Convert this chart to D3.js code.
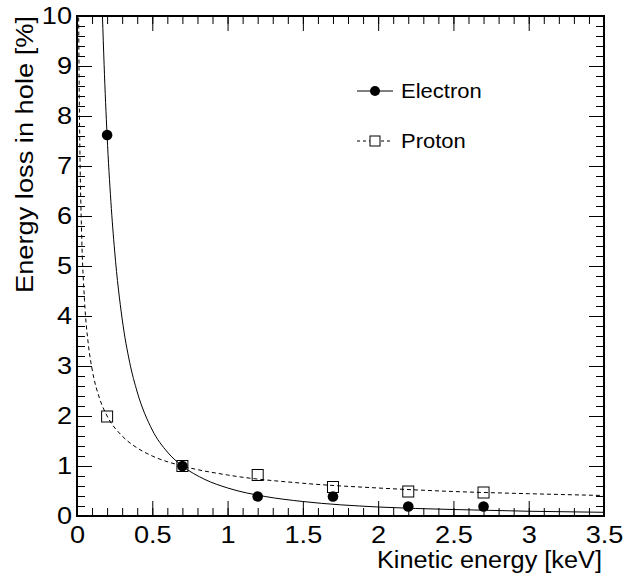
<!DOCTYPE html>
<html>
<head>
<meta charset="utf-8">
<script src="https://cdn.jsdelivr.net/npm/d3@7/dist/d3.min.js"></script>
<style>
  body { margin: 0; background: #fff; }
  text { font-family: "Liberation Sans", Arial, Helvetica, sans-serif; fill: #000; }
</style>
</head>
<body>
<svg id="chart"></svg>
<script>
// measured points
const energies = [0.2, 0.7, 1.2, 1.7, 2.2, 2.7];
const electronLoss = [7.62, 1.0, 0.39, 0.39, 0.19, 0.19];
const protonLoss = [1.99, 1.0, 0.82, 0.58, 0.49, 0.47];

// fitted curves
const electronFitX = [0.169, 0.18, 0.2, 0.225, 0.25, 0.3, 0.35, 0.4, 0.5, 0.6, 0.7, 0.85, 1.0, 1.25, 1.5, 2.0, 2.5, 3.0, 3.5];
const electronFitY = [10.0, 9.03, 7.6, 6.29, 5.3, 3.94, 3.07, 2.48, 1.72, 1.28, 1.0, 0.73, 0.561, 0.39, 0.29, 0.18, 0.13, 0.095, 0.074];
const protonFitX = [0.011, 0.015, 0.02, 0.03, 0.05, 0.075, 0.1, 0.15, 0.2, 0.3, 0.4, 0.5, 0.7, 1.0, 1.5, 2.0, 2.5, 3.0, 3.5];
const protonFitY = [9.97, 8.4, 7.16, 5.72, 4.31, 3.44, 2.94, 2.35, 2.0, 1.6, 1.36, 1.2, 1.0, 0.82, 0.655, 0.56, 0.49, 0.446, 0.41];

const xTickValues = [0, 0.5, 1, 1.5, 2, 2.5, 3, 3.5];
const yTickValues = [0, 1, 2, 3, 4, 5, 6, 7, 8, 9, 10];
const seriesNames = ['Electron', 'Proton'];

const width = 640, height = 581;
const frame = { left: 77, right: 604, top: 16, bottom: 516 };
const fontSize = 23;

const svg = d3.select('#chart').attr('width', width).attr('height', height);

const x = d3.scaleLinear().domain([0, 3.5]).range([frame.left, frame.right]);
const y = d3.scaleLinear().domain([0, 10]).range([frame.bottom, frame.top]);

const xMinor = d3.range(0, 36).map(i => i / 10);
const yMinor = d3.range(0, 51).map(i => i / 5);

// the original font is drawn a bit wider than Liberation Sans
function stretch(sel, k) {
  sel.each(function () {
    const w = this.getComputedTextLength();
    d3.select(this).attr('textLength', w * k).attr('lengthAdjust', 'spacingAndGlyphs');
  });
}

function tickGroup(axis, translate) {
  const g = svg.append('g').attr('transform', translate).call(axis);
  g.select('.domain').remove();
  g.selectAll('line').attr('stroke', '#000').attr('stroke-width', 1);
  return g;
}

// minor ticks (all four sides)
tickGroup(d3.axisBottom(x).tickValues(xMinor).tickSize(-8).tickFormat(''), `translate(0,${frame.bottom})`);
tickGroup(d3.axisTop(x).tickValues(xMinor).tickSize(-8).tickFormat(''), `translate(0,${frame.top})`);
tickGroup(d3.axisLeft(y).tickValues(yMinor).tickSize(-8).tickFormat(''), `translate(${frame.left},0)`);
tickGroup(d3.axisRight(y).tickValues(yMinor).tickSize(-8).tickFormat(''), `translate(${frame.right},0)`);

// major ticks with labels
const xAxis = tickGroup(
  d3.axisBottom(x).tickValues(xTickValues).tickSize(-15).tickPadding(11).tickFormat(d3.format('~g')),
  `translate(0,${frame.bottom})`
);
const yAxis = tickGroup(
  d3.axisLeft(y).tickValues(yTickValues).tickSize(-15).tickPadding(5).tickFormat(d3.format('~g')),
  `translate(${frame.left},0)`
);
tickGroup(d3.axisTop(x).tickValues(xTickValues).tickSize(-15).tickFormat(''), `translate(0,${frame.top})`);
tickGroup(d3.axisRight(y).tickValues(yTickValues).tickSize(-15).tickFormat(''), `translate(${frame.right},0)`);

xAxis.selectAll('text').attr('font-size', fontSize).attr('font-family', null).call(stretch, 1.18);
yAxis.selectAll('text').attr('font-size', fontSize).attr('font-family', null).call(stretch, 1.18);

// curves
svg.append('defs').append('clipPath').attr('id', 'clip')
  .append('rect')
  .attr('x', frame.left).attr('y', frame.top)
  .attr('width', frame.right - frame.left).attr('height', frame.bottom - frame.top);

const line = d3.line().x(d => x(d[0])).y(d => y(d[1])).curve(d3.curveMonotoneX);
const plot = svg.append('g').attr('clip-path', 'url(#clip)');

plot.append('path')
  .attr('d', line(d3.zip(electronFitX, electronFitY)))
  .attr('fill', 'none').attr('stroke', '#000').attr('stroke-width', 1);

plot.append('path')
  .attr('d', line(d3.zip(protonFitX, protonFitY)))
  .attr('fill', 'none').attr('stroke', '#000').attr('stroke-width', 1)
  .attr('stroke-dasharray', '4,3');

// markers
const sq = 11;
svg.append('g').selectAll('circle')
  .data(d3.zip(energies, electronLoss))
  .join('circle')
  .attr('cx', d => x(d[0])).attr('cy', d => y(d[1]))
  .attr('r', 5.3).attr('fill', '#000');

svg.append('g').selectAll('rect')
  .data(d3.zip(energies, protonLoss))
  .join('rect')
  .attr('x', d => x(d[0]) - sq / 2).attr('y', d => y(d[1]) - sq / 2)
  .attr('width', sq).attr('height', sq)
  .attr('fill', 'none').attr('stroke', '#000').attr('stroke-width', 1);

// frame
svg.append('rect')
  .attr('x', frame.left).attr('y', frame.top)
  .attr('width', frame.right - frame.left).attr('height', frame.bottom - frame.top)
  .attr('fill', 'none').attr('stroke', '#000').attr('stroke-width', 2);

// axis titles
svg.append('text')
  .attr('x', 602).attr('y', 568)
  .attr('text-anchor', 'end').attr('font-size', fontSize)
  .text('Kinetic energy [keV]').call(stretch, 1.1);

svg.append('text')
  .attr('transform', `translate(33,${frame.top}) rotate(-90)`)
  .attr('text-anchor', 'end').attr('font-size', fontSize)
  .attr('textLength', 277).attr('lengthAdjust', 'spacingAndGlyphs')
  .text('Energy loss in hole [%]');

// legend
const legend = svg.append('g').attr('transform', 'translate(357,91)');
const rowGap = 50;

seriesNames.forEach((name, i) => {
  const row = legend.append('g').attr('transform', `translate(0,${i * rowGap})`);
  row.append('line')
    .attr('x1', 0).attr('x2', 36).attr('y1', 0).attr('y2', 0)
    .attr('stroke', '#000').attr('stroke-width', 1)
    .attr('stroke-dasharray', i === 1 ? '3,3' : null);
  if (i === 0) {
    row.append('circle').attr('cx', 18).attr('cy', 0).attr('r', 5).attr('fill', '#000');
  } else {
    row.append('rect')
      .attr('x', 18 - 5).attr('y', -5).attr('width', 10).attr('height', 10)
      .attr('fill', '#fff').attr('stroke', '#000').attr('stroke-width', 1);
  }
  row.append('text')
    .attr('x', 44).attr('y', 0).attr('dy', '0.35em')
    .attr('font-size', 20)
    .text(name).call(stretch, 1.1);
});
</script>
</body>
</html>
